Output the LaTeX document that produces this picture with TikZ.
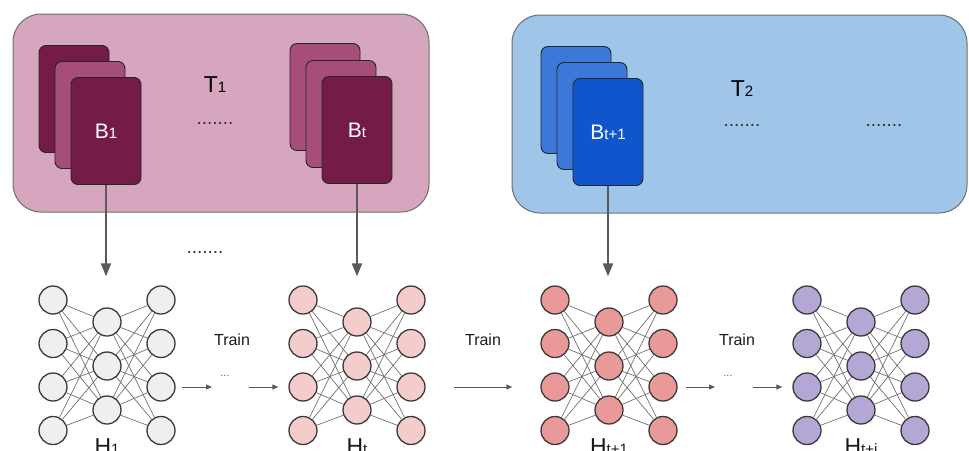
\documentclass[tikz,border=0pt]{standalone}
\usepackage{fontspec}
\setmainfont{Liberation Sans}
\usetikzlibrary{arrows.meta}
\definecolor{pinkbg}{HTML}{D5A6BD}
\definecolor{bluebg}{HTML}{9FC5E8}
\definecolor{plum}{HTML}{741B47}
\definecolor{plumlt}{HTML}{A64D79}
\definecolor{bluemid}{HTML}{3C78D8}
\definecolor{bluedk}{HTML}{1155CC}
\definecolor{cgray}{HTML}{EFEFEF}
\definecolor{cpink}{HTML}{F4CCCC}
\definecolor{cred}{HTML}{EA9999}
\definecolor{cpurple}{HTML}{B4A7D6}
\definecolor{edgec}{HTML}{3A3A3A}
\definecolor{linec}{HTML}{707070}
\definecolor{arrowc}{HTML}{5A5A5A}
\definecolor{framec}{HTML}{6E6E6E}
\newcommand\bigT{\fontsize{23}{26}\selectfont}
\newcommand\smallT{\fontsize{15}{18}\selectfont}
\newcommand\bigB{\fontsize{21}{24}\selectfont}
\newcommand\smallB{\fontsize{15}{18}\selectfont}
\begin{document}
\begin{tikzpicture}[x=1pt,y=-1pt,
  container/.style={draw=framec, line width=1pt, rounded corners=28pt, inner sep=0pt, minimum height=198pt},
  card/.style={draw=black!85, line width=0.9pt, rounded corners=7pt, minimum width=70pt, minimum height=107pt, inner sep=0pt, text=white},
  neuron/.style={circle, draw=edgec, line width=1.3pt, minimum size=28pt, inner sep=0pt},
  edge/.style={draw=linec, line width=0.7pt},
  varrow/.style={draw=arrowc, line width=2pt, -{Triangle[width=10pt,length=13pt]}},
  harrow/.style={draw=arrowc, line width=0.9pt, -{Triangle[width=5pt,length=6pt]}},
  dotstxt/.style={inner sep=0pt, font=\fontsize{19}{20}\selectfont, text=black!80},
  tinydots/.style={inner sep=0pt, font=\fontsize{11}{12}\selectfont, text=black!60},
  hlab/.style={anchor=base, inner sep=0pt, text=black!90},
  trainlab/.style={inner sep=0pt, font=\fontsize{16}{18}\selectfont, text=black!90}
]
\useasboundingbox (0,0) rectangle (969,450);

% containers
\node[container, fill=pinkbg, minimum width=416pt] (t1box) at (221,113) {};
\node[container, fill=bluebg, minimum width=455pt] (t2box) at (739.5,114) {};

% B1 stack
\node[card, fill=plum] (b1a) at (74,99) {};
\node[card, fill=plumlt] (b1b) at (90,115) {};
\node[card, fill=plum] (b1c) at (106,131) {\bigB B\smallB 1};
% Bt stack
\node[card, fill=plumlt] (bta) at (325,97) {};
\node[card, fill=plumlt] (btb) at (341,114) {};
\node[card, fill=plum] (btc) at (357,130) {\bigB B\smallB t};
% Bt+1 stack
\node[card, fill=bluemid] (bua) at (576,100) {};
\node[card, fill=bluemid] (bub) at (592,116) {};
\node[card, fill=bluedk] (buc) at (608,132) {\bigB B\smallB t+1};

% labels in containers
\node[inner sep=0pt, anchor=base] (t1) at (215,92) {\bigT T\smallT 1};
\node[inner sep=0pt, anchor=base] (t2) at (742,96) {\bigT T\smallT 2};
\node[dotstxt] (d1) at (215,123) {.......};
\node[dotstxt] (d2) at (742,125) {.......};
\node[dotstxt] (d3) at (884,125) {.......};
\node[dotstxt] (d4) at (205,252) {.......};

% networks
\foreach \k/\cx/\col/\lab in {1/107/cgray/1, 2/357/cpink/t, 3/609/cred/t+1, 4/861/cpurple/t+i}{
  \foreach \i in {1,...,4}{
    \node[neuron, fill=\col] (n\k l\i) at (\cx-54, 300+43.5*\i-43.5) {};
    \node[neuron, fill=\col] (n\k r\i) at (\cx+54, 300+43.5*\i-43.5) {};
  }
  \foreach \j in {1,...,3}{
    \node[neuron, fill=\col] (n\k m\j) at (\cx, 322+44*\j-44) {};
  }
  \foreach \i in {1,...,4}{
    \foreach \j in {1,...,3}{
      \draw[edge] (n\k l\i) -- (n\k m\j);
      \draw[edge] (n\k m\j) -- (n\k r\i);
    }
  }
  \node[hlab] (h\k) at (\cx,454) {\bigT H\smallT\lab};
}

% vertical arrows
\draw[varrow, shorten >=31pt] (b1c.south) -- (b1c.south |- n1m1.north);
\draw[varrow, shorten >=31pt] (btc.south) -- (btc.south |- n2m1.north);
\draw[varrow, shorten >=31pt] (buc.south) -- (buc.south |- n3m1.north);

% train labels and small dots
\node[trainlab] (tr1) at (232,340) {Train};
\node[trainlab] (tr2) at (483,340) {Train};
\node[trainlab] (tr3) at (737,340) {Train};
\node[tinydots] (s1) at (225,376) {...};
\node[tinydots] (s2) at (728,376) {...};

% horizontal arrows
\draw[harrow, shorten <=6pt, shorten >=13pt] (n1r3.east) -- (n1r3.east -| s1.center);
\draw[harrow, shorten <=24pt, shorten >=10pt] (s1.center |- n2l3.west) -- (n2l3.west);
\draw[harrow, shorten <=28pt, shorten >=28pt] (n2r3.east) -- (n3l3.west);
\draw[harrow, shorten <=8pt, shorten >=13pt] (n3r3.east) -- (n3r3.east -| s2.center);
\draw[harrow, shorten <=25pt, shorten >=10pt] (s2.center |- n4l3.west) -- (n4l3.west);
\end{tikzpicture}
\end{document}
